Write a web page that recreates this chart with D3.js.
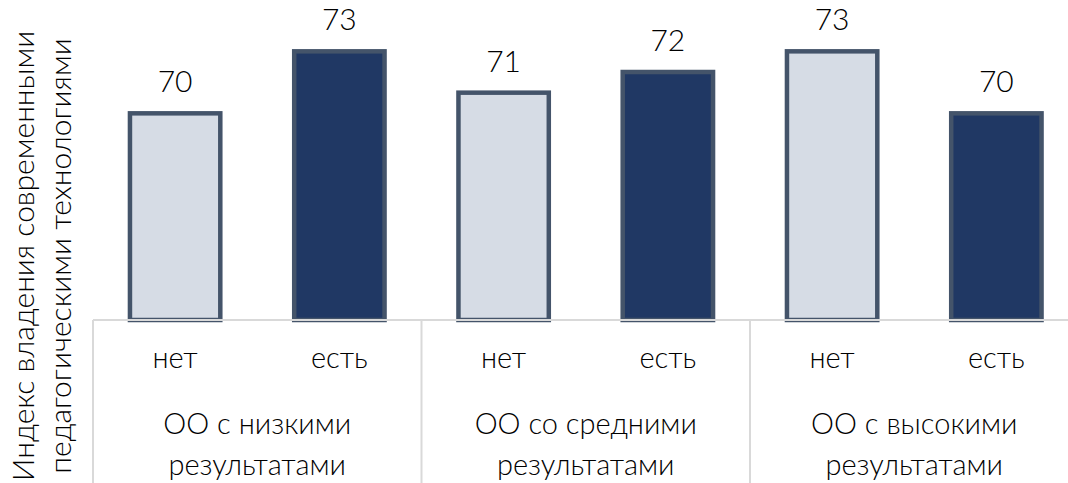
<!DOCTYPE html>
<html>
<head>
<meta charset="utf-8">
<script src="https://cdnjs.cloudflare.com/ajax/libs/d3/7.8.5/d3.min.js"></script>
<style>
  body { margin: 0; background: #fff; }
  svg text { font-family: "Lato", "Open Sans", sans-serif; font-weight: 300; fill: #000; }
</style>
</head>
<body>
<div id="chart"></div>
<script>
// data
var groups = ["ОО с низкими результатами", "ОО со средними результатами", "ОО с высокими результатами"];
var subcats = ["нет", "есть"];
var values = [70, 73, 71, 72, 73, 70];
var yTitle = ["Индекс владения современными", "педагогическими технологиями"];

var width = 1068, height = 483;
var margin = {top: 10, left: 93, bottom: 163};
var plotRight = 1078.5;
var baseY = height - margin.bottom;

var svg = d3.select("#chart").append("svg")
    .attr("width", width)
    .attr("height", height);

var rows = [];
groups.forEach(function(g, gi){
    subcats.forEach(function(s, si){
        rows.push({group: g, gi: gi, cat: s, si: si, value: values[gi * 2 + si], key: gi + "-" + si});
    });
});

var x = d3.scaleBand()
    .domain(rows.map(function(d){ return d.key; }))
    .range([margin.left, plotRight])
    .paddingInner(0.45)
    .paddingOuter(0.225);

var xg = d3.scaleBand()
    .domain(d3.range(groups.length))
    .range([margin.left, plotRight]);

var y = d3.scaleLinear()
    .domain([60, 75])
    .range([baseY, margin.top]);

// bars
svg.append("g").selectAll("rect")
    .data(rows)
    .enter().append("rect")
    .attr("x", function(d){ return x(d.key); })
    .attr("y", function(d){ return y(d.value); })
    .attr("width", x.bandwidth())
    .attr("height", function(d){ return baseY - y(d.value); })
    .attr("fill", function(d){ return d.si == 0 ? "#d6dce5" : "#203864"; })
    .attr("stroke", "#44546a")
    .attr("stroke-width", 4.5);

// axis line and group separators
svg.append("line")
    .attr("x1", margin.left).attr("x2", width)
    .attr("y1", baseY).attr("y2", baseY)
    .attr("stroke", "#d9d9d9").attr("stroke-width", 2);

svg.append("g").selectAll("line")
    .data(d3.range(groups.length + 1))
    .enter().append("line")
    .attr("x1", function(i){ return margin.left + i * xg.step(); })
    .attr("x2", function(i){ return margin.left + i * xg.step(); })
    .attr("y1", baseY).attr("y2", height)
    .attr("stroke", "#d9d9d9").attr("stroke-width", 2);

// value labels
svg.append("g").selectAll("text")
    .data(rows)
    .enter().append("text")
    .attr("x", function(d){ return x(d.key) + x.bandwidth() / 2; })
    .attr("y", function(d){ return y(d.value) - 21; })
    .attr("text-anchor", "middle")
    .style("font-size", "30px")
    .text(function(d){ return d.value; });

// sub category labels
svg.append("g").selectAll("text")
    .data(rows)
    .enter().append("text")
    .attr("x", function(d){ return x(d.key) + x.bandwidth() / 2; })
    .attr("y", baseY + 48)
    .attr("text-anchor", "middle")
    .style("font-size", "29px")
    .text(function(d){ return d.cat; });

// group labels, two lines
var gl = svg.append("g").selectAll("text")
    .data(groups)
    .enter().append("text")
    .attr("text-anchor", "middle")
    .style("font-size", "29px");
gl.each(function(g, i){
    var t = d3.select(this);
    var cx = xg(i) + xg.bandwidth() / 2;
    var idx = g.lastIndexOf(" ");
    t.append("tspan").attr("x", cx).attr("y", baseY + 114).text(g.slice(0, idx));
    t.append("tspan").attr("x", cx).attr("y", baseY + 155).text(g.slice(idx + 1));
});

// y title
var yt = svg.append("text")
    .attr("transform", "translate(34," + 256 + ") rotate(-90)")
    .attr("text-anchor", "middle")
    .style("font-size", "30px");
yTitle.forEach(function(s, i){
    yt.append("tspan").attr("x", 0).attr("y", i * 37).text(s);
});
</script>
</body>
</html>
